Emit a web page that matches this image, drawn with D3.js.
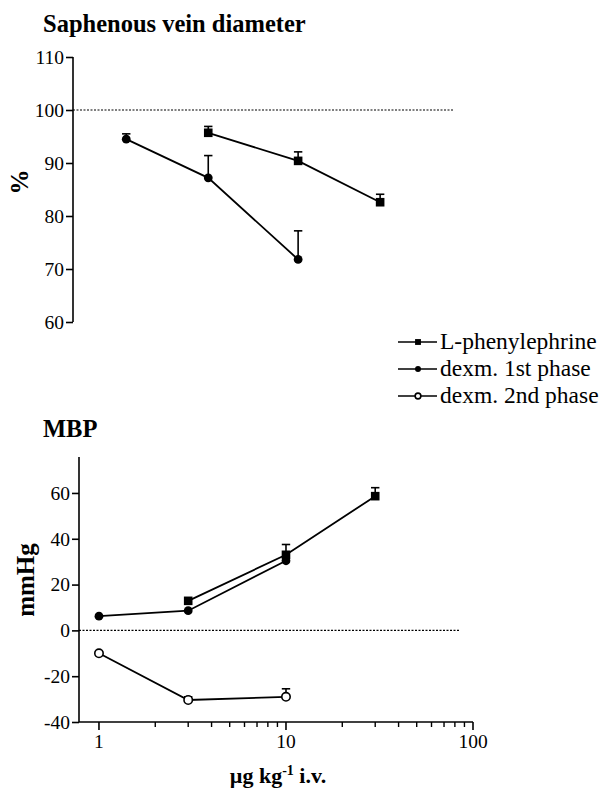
<!DOCTYPE html>
<html><head><meta charset="utf-8">
<script src="https://cdn.jsdelivr.net/npm/d3@7"></script>
<style>
html,body{margin:0;padding:0;background:#fff;}
text{font-family:"Liberation Serif","Times New Roman",serif;fill:#000;}
</style></head>
<body>
<svg id="c" width="609" height="793"></svg>
<script>
// ---- data ----
const doses = [1, 3, 10, 30];
const seriesNames = ["L-phenylephrine", "dexm. 1st phase", "dexm. 2nd phase"];
// Saphenous vein diameter (%)
const sv_phe_x = [3, 10, 30];
const sv_phe_y = [95.7, 90.4, 82.6];
const sv_phe_err = [1.2, 1.7, 1.5];
const sv_d1_x = [1, 3, 10];
const sv_d1_y = [94.5, 87.2, 71.8];
const sv_d1_err = [1.0, 4.2, 5.4];
// MBP (mmHg)
const mbp_phe_x = [3, 10, 30];
const mbp_phe_y = [12.9, 33.0, 58.6];
const mbp_phe_err = [0, 4.5, 3.7];
const mbp_d1_x = [1, 3, 10];
const mbp_d1_y = [6.2, 8.6, 30.4];
const mbp_d1_err = [0, 0, 0];
const mbp_d2_x = [1, 3, 10];
const mbp_d2_y = [-10.0, -30.4, -29.0];
const mbp_d2_err = [0, 1.4, 3.5];
const svTicks = [60, 70, 80, 90, 100, 110];
const mbpTicks = [-40, -20, 0, 20, 40, 60];
const xTickLabels = [1, 10, 100];
const svRef = 100, mbpRef = 0;

const svg = d3.select("#c");
const zip = (xs, ys, es) => xs.map((x, i) => ({x, y: ys[i], e: es[i]}));

function drawSeries(g, x, y, data, shape) {
  const line = d3.line().x(d => x(d.x)).y(d => y(d.y));
  g.append("path").attr("d", line(data)).attr("fill", "none").attr("stroke", "#000").attr("stroke-width", 1.8);
  data.filter(d => d.e > 0).forEach(d => {
    const cx = x(d.x), y0 = y(d.y), y1 = y(d.y + d.e);
    g.append("line").attr("x1", cx).attr("x2", cx).attr("y1", y0).attr("y2", y1).attr("stroke", "#000").attr("stroke-width", 1.6);
    g.append("line").attr("x1", cx - 4.2).attr("x2", cx + 4.2).attr("y1", y1).attr("y2", y1).attr("stroke", "#000").attr("stroke-width", 1.6);
  });
  data.forEach(d => drawMarker(g, x(d.x), y(d.y), shape, 1));
}
function drawMarker(g, cx, cy, shape, s) {
  if (shape === "square") {
    const w = 8.6 * s;
    g.append("rect").attr("x", cx - w / 2).attr("y", cy - w / 2).attr("width", w).attr("height", w).attr("fill", "#000");
  } else if (shape === "circle") {
    g.append("circle").attr("cx", cx).attr("cy", cy).attr("r", 4.4 * s).attr("fill", "#000");
  } else {
    g.append("circle").attr("cx", cx).attr("cy", cy).attr("r", 4.2 * s).attr("fill", "#fff").attr("stroke", "#000").attr("stroke-width", 1.6);
  }
}
function yAxis(g, y, ticks, x0) {
  const ax = g.append("g").attr("transform", `translate(${x0},0)`)
    .call(d3.axisLeft(y).tickValues(ticks).tickSize(7).tickPadding(2).tickFormat(d => String(d)));
  ax.select(".domain").attr("stroke-width", 1.6).attr("d", `M0,${y.range()[0]}V${y.range()[1]}`);
  ax.selectAll(".tick line").attr("stroke-width", 1.6);
  ax.selectAll(".tick text").attr("font-family", "Liberation Serif").attr("font-size", 19.5).attr("fill", "#000");
}

// ---- top panel ----
const xT = d3.scaleLog().domain([0.49, 100]).range([73, 470]);
const yT = d3.scaleLinear().domain([60, 110]).range([322, 57]);
const gT = svg.append("g");
gT.append("text").attr("x", 43).attr("y", 32).attr("font-size", 24.5).attr("font-weight", "bold").text("Saphenous vein diameter");
yAxis(gT, yT, svTicks, 73);
gT.append("line").attr("x1", xT.range()[0]).attr("x2", xT(80)).attr("y1", yT(svRef)).attr("y2", yT(svRef))
  .attr("stroke", "#000").attr("stroke-width", 1.2).attr("stroke-dasharray", "2,1.5");
gT.append("text").attr("transform", `translate(28,182) rotate(-90)`).attr("text-anchor", "middle")
  .attr("font-size", 25).attr("font-weight", "bold").text("%");
drawSeries(gT, xT, yT, zip(sv_phe_x, sv_phe_y, sv_phe_err), "square");
drawSeries(gT, xT, yT, zip(sv_d1_x, sv_d1_y, sv_d1_err), "circle");

// ---- legend ----
const shapes = ["square", "circle", "open"];
const gL = svg.append("g");
seriesNames.forEach((n, i) => {
  const yy = 342 + i * 27;
  gL.append("line").attr("x1", 398).attr("x2", 437).attr("y1", yy).attr("y2", yy).attr("stroke", "#000").attr("stroke-width", 1.6);
  drawMarker(gL, 418, yy, shapes[i], 0.68);
  gL.append("text").attr("x", 440).attr("y", yy + 7).attr("font-size", 23.5).text(n);
});

// ---- bottom panel ----
const xB = d3.scaleLog().domain([0.782, 100]).range([79, 473]);
const yB = d3.scaleLinear().domain([-40, 75.7]).range([722, 457]);
const gB = svg.append("g");
gB.append("text").attr("x", 43).attr("y", 437).attr("font-size", 24.5).attr("font-weight", "bold").text("MBP");
yAxis(gB, yB, mbpTicks, 79);
// x axis
const xa = gB.append("g").attr("transform", `translate(0,${yB(-40)})`);
xa.append("path").attr("d", `M${xB.range()[0]},0H${xB.range()[1]}`).attr("stroke", "#000").attr("stroke-width", 1.6).attr("fill", "none");
const minor = [];
for (let dec = 1; dec <= 10; dec *= 10) for (let k = 2; k <= 9; k++) minor.push(k * dec);
minor.forEach(v => xa.append("line").attr("x1", xB(v)).attr("x2", xB(v)).attr("y1", 0).attr("y2", 5).attr("stroke", "#000").attr("stroke-width", 1.4));
xTickLabels.forEach(v => {
  xa.append("line").attr("x1", xB(v)).attr("x2", xB(v)).attr("y1", 0).attr("y2", 8).attr("stroke", "#000").attr("stroke-width", 1.6);
  xa.append("text").attr("x", xB(v)).attr("y", 26).attr("text-anchor", "middle").attr("font-size", 19.5).text(v);
});
const xt = gB.append("text").attr("x", 278).attr("y", 783).attr("text-anchor", "middle").attr("font-size", 22).attr("font-weight", "bold");
xt.append("tspan").text("\u00b5g kg");
xt.append("tspan").attr("dy", -8).attr("font-size", 14).text("-1");
xt.append("tspan").attr("dy", 8).text(" i.v.");
gB.append("line").attr("x1", xB.range()[0]).attr("x2", xB(85)).attr("y1", yB(mbpRef)).attr("y2", yB(mbpRef))
  .attr("stroke", "#000").attr("stroke-width", 1.2).attr("stroke-dasharray", "2,1.5");
gB.append("text").attr("transform", `translate(34,580) rotate(-90)`).attr("text-anchor", "middle")
  .attr("font-size", 25).attr("font-weight", "bold").text("mmHg");
drawSeries(gB, xB, yB, zip(mbp_phe_x, mbp_phe_y, mbp_phe_err), "square");
drawSeries(gB, xB, yB, zip(mbp_d1_x, mbp_d1_y, mbp_d1_err), "circle");
drawSeries(gB, xB, yB, zip(mbp_d2_x, mbp_d2_y, mbp_d2_err), "open");
</script>
</body></html>
